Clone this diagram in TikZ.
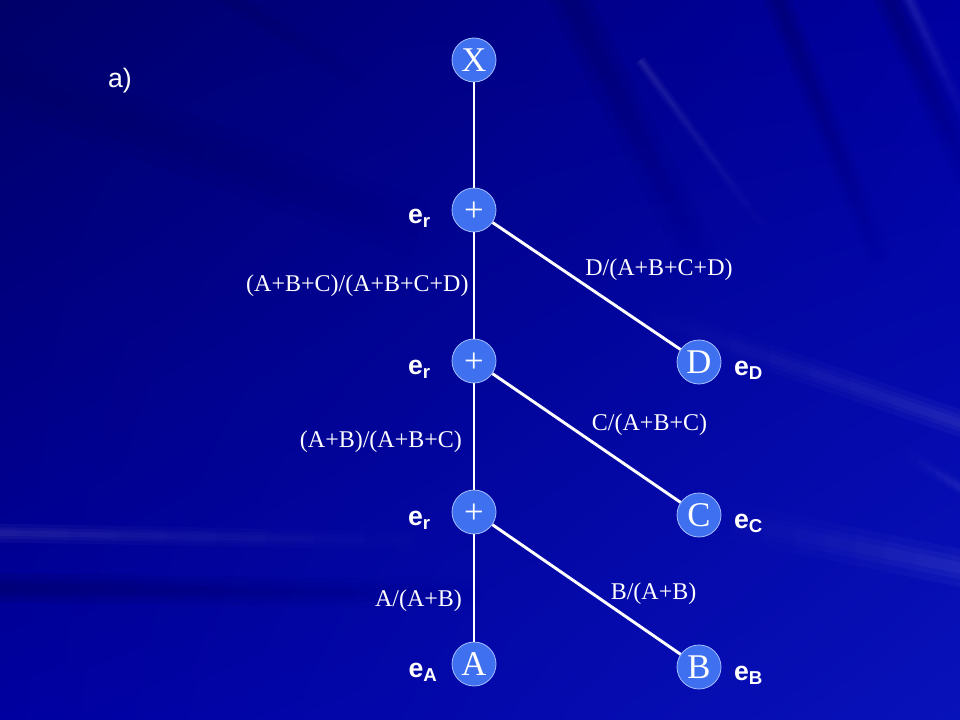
\documentclass[tikz,border=0pt]{standalone}
\usepackage{fontspec}
\setmainfont{Liberation Serif}
\setsansfont{Liberation Sans}
\usetikzlibrary{positioning,calc,shadings,fadings}

\definecolor{bgdark}{RGB}{0,0,105}
\definecolor{bgmid}{RGB}{0,0,160}
\definecolor{bglight}{RGB}{8,18,185}
\definecolor{nodefill}{RGB}{62,112,240}
\definecolor{nodeedge}{RGB}{165,190,255}

\begin{document}
\begin{tikzpicture}[
        x=0.75pt, y=-0.75pt,
        node distance = 10pt,
        vert/.style = {circle, draw=nodeedge, line width=0.6pt, fill=nodefill, minimum size=33pt, inner sep=0pt, text=white, font=\fontsize{26}{26}\selectfont},
        elbl/.style = {text=white, font=\sffamily\bfseries\fontsize{20}{24}\selectfont, yshift=-6pt},
        wlbl/.style = {text=white, font=\fontsize{18}{21}\selectfont, inner sep=3pt},
        line/.style = {draw=white, line width=2.2pt},
        darkray/.style = {draw=bgdark, opacity=.25},
        lightray/.style = {draw=white, opacity=.04}
    ]

        % Background
        \useasboundingbox (0,0) rectangle (960,720);
        \begin{scope}
        \clip (0,0) rectangle (960,720);
        \shade[upper left=bgdark, upper right=bgmid, lower left=bgmid, lower right=bglight] (0,0) rectangle (960,720);
        % streaks fading towards the middle
        \foreach \xa/\ya/\xb/\yb/\w/\fd in {-20/70/420/230/45/east, 200/-20/360/80/16/east, 0/588/480/594/22/east, 880/-20/980/200/22/south, 770/-20/880/260/20/south, 560/-20/700/260/30/south}
            \foreach \f in {1,.6,.3}
                \draw[darkray, line width={\f*\w*1pt}, path fading=\fd] (\xa,\ya) -- (\xb,\yb);
        \foreach \xa/\ya/\xb/\yb/\w/\fd in {640/60/780/250/8/south, 900/-20/980/150/10/south, 0/533/480/542/14/east, 700/515/980/572/28/west, 900/450/980/500/10/west, 600/300/980/430/20/west}
            \foreach \f in {1,.6,.3}
                \draw[lightray, line width={\f*\w*1pt}, path fading=\fd] (\xa,\ya) -- (\xb,\yb);
        \end{scope}

        % Nodes
        \node[text=white, font=\sffamily\fontsize{20}{24}\selectfont] (tag) at (120,81) {a)};
        \node[vert] (x)  at (474,60)  {X};
        \node[vert] (p1) at (474,210) {\vphantom{X}+};
        \node[vert] (p2) at (474,361) {\vphantom{X}+};
        \node[vert] (p3) at (474,512) {\vphantom{X}+};
        \node[vert] (a)  at (474,664) {A};
        \node[vert] (d)  at (699,362) {D};
        \node[vert] (c)  at (699,515) {C};
        \node[vert] (b)  at (699,667) {B};

        \node[elbl, left=12pt of p1] (er1) {e\textsubscript{r}};
        \node[elbl, left=12pt of p2] (er2) {e\textsubscript{r}};
        \node[elbl, left=12pt of p3] (er3) {e\textsubscript{r}};
        \node[elbl, left=7pt of a] (ea) {e\textsubscript{A}};
        \node[elbl, right=6pt of b] (eb) {e\textsubscript{B}};
        \node[elbl, right=6pt of c] (ec) {e\textsubscript{C}};
        \node[elbl, right=6pt of d] (ed) {e\textsubscript{D}};

        % Edges
        \draw[line] (x) -- (p1);
        \draw[line] (p1) -- node[wlbl, left] {(A+B+C)/(A+B+C+D)} (p2);
        \draw[line] (p2) -- node[wlbl, left, pos=.55, xshift=-5pt] {(A+B)/(A+B+C)} (p3);
        \draw[line] (p3) -- node[wlbl, left, pos=.62, xshift=-5pt] {A/(A+B)} (a);
        \draw[line] (p1) -- node[wlbl, above right, xshift=-5pt] {D/(A+B+C+D)} (d);
        \draw[line] (p2) -- node[wlbl, above right, yshift=-2pt] {C/(A+B+C)} (c);
        \draw[line] (p3) -- node[wlbl, above right, pos=.6, yshift=-6pt] {B/(A+B)} (b);

\end{tikzpicture}
\end{document}
